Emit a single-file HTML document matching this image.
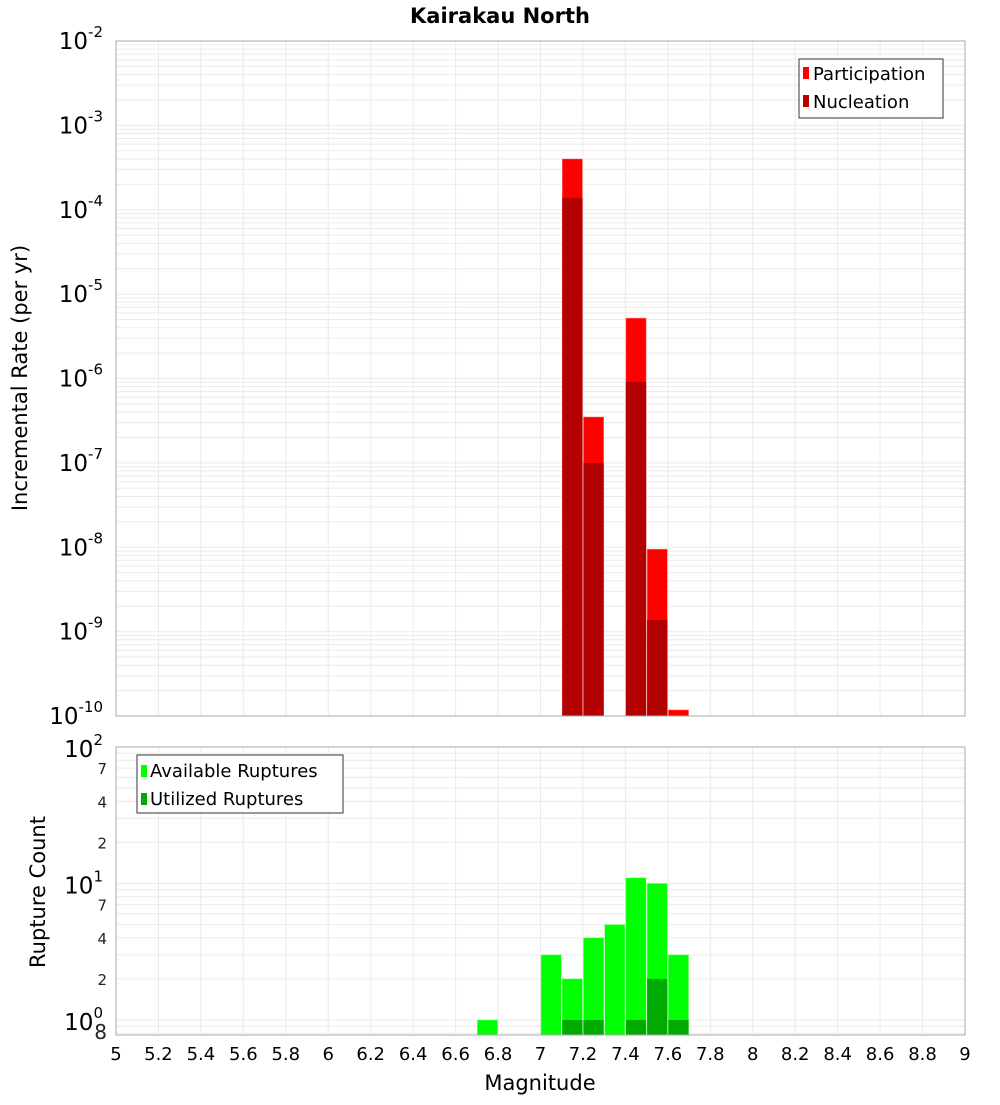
<!DOCTYPE html>
<html><head><meta charset="utf-8"><style>
body{margin:0;background:#fff;}
svg text{font-family:"DejaVu Sans","Liberation Sans",sans-serif;}
</style></head><body>
<svg id="c" width="1000" height="1100" xmlns="http://www.w3.org/2000/svg">
<text x="500" y="23" text-anchor="middle" font-size="21" font-weight="bold">Kairakau North</text>
<g id="topg"></g>
<g id="botg"></g>
<text x="540" y="1090" text-anchor="middle" font-size="21">Magnitude</text>
<text transform="translate(27,378) rotate(-90)" text-anchor="middle" font-size="21">Incremental Rate (per yr)</text>
<text transform="translate(45,892) rotate(-90)" text-anchor="middle" font-size="21">Rupture Count</text>
</svg>
<script>
const magBins=[7.15,7.25,7.45,7.55,7.65];
const participation=[4.0e-4,3.5e-7,5.2e-6,9.5e-9,1.18e-10];
const nucleation=[1.38e-4,1.0e-7,9.1e-7,1.38e-9,0];
const countBins=[6.75,7.05,7.15,7.25,7.35,7.45,7.55,7.65];
const available=[1,3,2,4,5,11,10,3];
const utilized=[0,0,1,1,0,1,2,1];
const xTicks=[5,5.2,5.4,5.6,5.8,6,6.2,6.4,6.6,6.8,7,7.2,7.4,7.6,7.8,8,8.2,8.4,8.6,8.8,9];
const topExps=[-2,-3,-4,-5,-6,-7,-8,-9,-10];
const NS="http://www.w3.org/2000/svg";
const L=116,R=965;
const x=m=>L+(m-5)/4*(R-L);
const T0=41,T1=716;
const yT=v=>T0+(-2-Math.log10(v))/8*(T1-T0);
const B0=747,B1=1035;
const yB=v=>1020-Math.log10(v)*136.5;
function mk(p,tag,a){const e=document.createElementNS(NS,tag);for(const k in a)e.setAttribute(k,a[k]);p.appendChild(e);return e;}
const topG=document.getElementById('topg'),botG=document.getElementById('botg');
for(let d=-10;d<-2;d++)for(let k=1;k<10;k++){const yy=yT(k*Math.pow(10,d));const g=mk(topG,'line',{x1:L,x2:R,y1:yy,y2:yy,stroke:'#ebebeb','stroke-width':1});

}
xTicks.forEach(t=>{const g=mk(topG,'line',{x1:x(t),x2:x(t),y1:T0,y2:T1,stroke:'#ebebeb'});


const g2=mk(botG,'line',{x1:x(t),x2:x(t),y1:B0,y2:B1,stroke:'#ebebeb'});

});
magBins.forEach((m,i)=>{
 const p=mk(topG,'rect',{x:x(m-0.05)+0.5,width:x(m+0.05)-x(m-0.05)-1,y:yT(participation[i]),height:T1-yT(participation[i]),fill:'#ff0000',stroke:'#ff8080','stroke-width':0.5});
 
 
 if(nucleation[i]>0){const n=mk(topG,'rect',{x:x(m-0.05)+0.5,width:x(m+0.05)-x(m-0.05)-1,y:yT(nucleation[i]),height:T1-yT(nucleation[i]),fill:'#b30000'});
 
 }
});
mk(topG,'rect',{x:L,y:T0,width:R-L,height:T1-T0,fill:'none',stroke:'#aaa'});
topExps.forEach(e=>{const yy=yT(Math.pow(10,e));const t=mk(topG,'text',{x:103,y:yy+8,'text-anchor':'end','font-size':23});


t.textContent='10';const s=mk(t,'tspan',{dy:-12,'font-size':15});s.textContent=String(e);});
const lg=mk(topG,'g',{});


mk(lg,'rect',{x:799,y:59,width:144,height:59,fill:'#fff',stroke:'#333'});
mk(lg,'rect',{x:803,y:67,width:6,height:12,fill:'#ff0000'});
mk(lg,'rect',{x:803,y:95,width:6,height:12,fill:'#b30000'});
const l1=mk(lg,'text',{x:813,y:80,'font-size':18});l1.textContent='Participation';
const l2=mk(lg,'text',{x:813,y:108,'font-size':18});l2.textContent='Nucleation';
[1,2,3,4,5,6,7,8,9,10,20,30,40,50,60,70,80,90,100,0.8,0.9].forEach(v=>{const yy=yB(v);if(yy<B0-1||yy>B1)return;const g=mk(botG,'line',{x1:L,x2:R,y1:yy,y2:yy,stroke:'#ebebeb'});

});
countBins.forEach((m,i)=>{
 const a=mk(botG,'rect',{x:x(m-0.05)+0.5,width:x(m+0.05)-x(m-0.05)-1,y:yB(available[i]),height:B1-yB(available[i]),fill:'#00ff00',stroke:'#80ff80','stroke-width':0.5});
 
 
 if(utilized[i]>0){const u=mk(botG,'rect',{x:x(m-0.05)+0.5,width:x(m+0.05)-x(m-0.05)-1,y:yB(utilized[i]),height:B1-yB(utilized[i]),fill:'#00aa00'});
 
 }
});
mk(botG,'rect',{x:L,y:B0,width:R-L,height:B1-B0,fill:'none',stroke:'#aaa'});
[[100,'2'],[10,'1'],[1,'0']].forEach(([v,e])=>{const t=mk(botG,'text',{x:103,y:yB(v)+10,'text-anchor':'end','font-size':23});


t.textContent='10';const s=mk(t,'tspan',{dy:-12,'font-size':15});s.textContent=e;});
[[70,'7'],[40,'4'],[20,'2'],[7,'7'],[4,'4'],[2,'2'],[0.8,'8']].forEach(([v,l])=>{const t=mk(botG,'text',{x:107,y:yB(v)+6,'text-anchor':'end','font-size':v<1?20:15,fill:'#222'});


t.textContent=l;});
const bl=mk(botG,'g',{});


mk(bl,'rect',{x:137,y:755,width:206,height:58,fill:'#fff',stroke:'#333'});
mk(bl,'rect',{x:141,y:765,width:6,height:12,fill:'#00ff00'});
mk(bl,'rect',{x:141,y:793,width:6,height:12,fill:'#00aa00'});
const b1=mk(bl,'text',{x:150,y:777,'font-size':18});b1.textContent='Available Ruptures';
const b2=mk(bl,'text',{x:150,y:805,'font-size':18});b2.textContent='Utilized Ruptures';
xTicks.forEach(t=>{const e=mk(botG,'text',{x:x(t),y:1060,'text-anchor':'middle','font-size':18});


e.textContent=String(t);});
</script>
</body></html>
